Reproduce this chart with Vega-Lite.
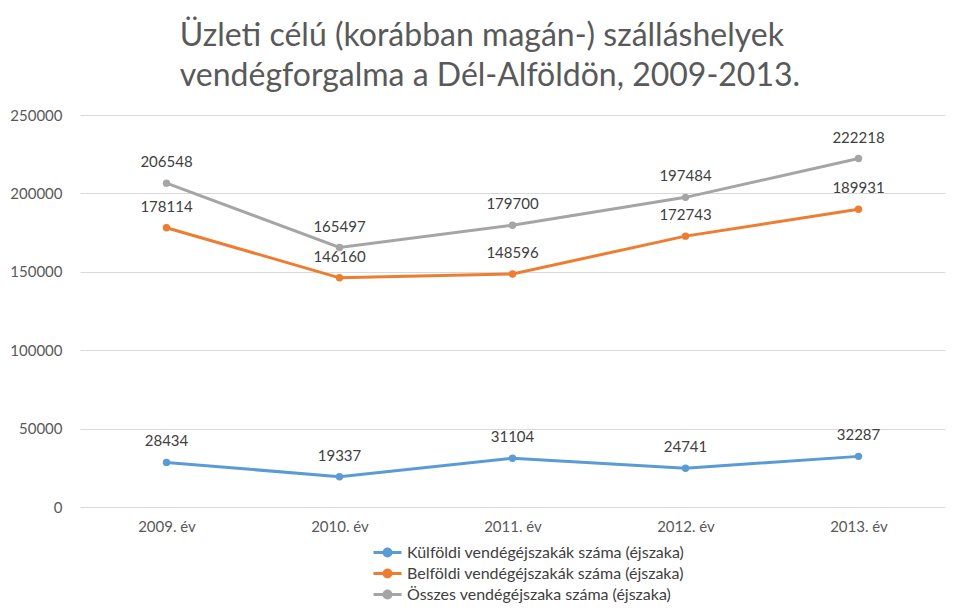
{
  "$schema": "https://vega.github.io/schema/vega-lite/v6.json",
  "width": 865,
  "height": 392,
  "autosize": {"type": "none"},
  "padding": {"left": 80, "top": 115, "right": 15, "bottom": 107},
  "background": "white",
  "config": {"font": "Lato", "view": {"stroke": null}},
  "title": {
    "text": ["Üzleti célú (korábban magán-) szálláshelyek", "vendégforgalma a Dél-Alföldön, 2009-2013."],
    "anchor": "start",
    "dx": 170,
    "fontSize": 32,
    "fontWeight": "normal",
    "color": "#595959",
    "lineHeight": 40,
    "offset": 15
  },
  "data": {
    "values": [
      {"ev": "2009. év", "sorozat": "Külföldi vendégéjszakák száma (éjszaka)", "ertek": 28434},
      {"ev": "2010. év", "sorozat": "Külföldi vendégéjszakák száma (éjszaka)", "ertek": 19337},
      {"ev": "2011. év", "sorozat": "Külföldi vendégéjszakák száma (éjszaka)", "ertek": 31104},
      {"ev": "2012. év", "sorozat": "Külföldi vendégéjszakák száma (éjszaka)", "ertek": 24741},
      {"ev": "2013. év", "sorozat": "Külföldi vendégéjszakák száma (éjszaka)", "ertek": 32287},
      {"ev": "2009. év", "sorozat": "Belföldi vendégéjszakák száma (éjszaka)", "ertek": 178114},
      {"ev": "2010. év", "sorozat": "Belföldi vendégéjszakák száma (éjszaka)", "ertek": 146160},
      {"ev": "2011. év", "sorozat": "Belföldi vendégéjszakák száma (éjszaka)", "ertek": 148596},
      {"ev": "2012. év", "sorozat": "Belföldi vendégéjszakák száma (éjszaka)", "ertek": 172743},
      {"ev": "2013. év", "sorozat": "Belföldi vendégéjszakák száma (éjszaka)", "ertek": 189931},
      {"ev": "2009. év", "sorozat": "Összes vendégéjszaka száma (éjszaka)", "ertek": 206548},
      {"ev": "2010. év", "sorozat": "Összes vendégéjszaka száma (éjszaka)", "ertek": 165497},
      {"ev": "2011. év", "sorozat": "Összes vendégéjszaka száma (éjszaka)", "ertek": 179700},
      {"ev": "2012. év", "sorozat": "Összes vendégéjszaka száma (éjszaka)", "ertek": 197484},
      {"ev": "2013. év", "sorozat": "Összes vendégéjszaka száma (éjszaka)", "ertek": 222218}
    ]
  },
  "encoding": {
    "x": {
      "field": "ev",
      "type": "ordinal",
      "sort": null,
      "scale": {"type": "point", "padding": 0.5},
      "axis": {
        "title": null,
        "labelAngle": 0,
        "labelFontSize": 15,
        "labelColor": "#595959",
        "labelPadding": 12,
        "ticks": false,
        "domain": false,
        "grid": false
      }
    },
    "y": {
      "field": "ertek",
      "type": "quantitative",
      "scale": {"domain": [0, 250000], "nice": false},
      "axis": {
        "title": null,
        "values": [0, 50000, 100000, 150000, 200000, 250000],
        "format": "d",
        "labelFontSize": 15,
        "labelColor": "#595959",
        "labelPadding": 18,
        "ticks": false,
        "domain": false,
        "gridColor": "#D9D9D9",
        "gridWidth": 1
      }
    },
    "color": {
      "field": "sorozat",
      "type": "nominal",
      "sort": null,
      "scale": {
        "domain": ["Külföldi vendégéjszakák száma (éjszaka)", "Belföldi vendégéjszakák száma (éjszaka)", "Összes vendégéjszaka száma (éjszaka)"],
        "range": ["#5B9BD5", "#ED7D31", "#A5A5A5"]
      },
      "legend": {
        "title": null,
        "orient": "none",
        "legendX": 296,
        "legendY": 426,
        "direction": "vertical",
        "padding": 0,
        "labelFontSize": 16,
        "labelColor": "#404040",
        "labelLimit": 0,
        "labelOffset": 8,
        "rowPadding": -2,
        "symbolType": "M-1.4,0H1.4M-0.35,0A0.35,0.35 0 1,0 0.35,0A0.35,0.35 0 1,0 -0.35,0Z",
        "symbolSize": 400,
        "symbolStrokeWidth": 3,
        "encode": {
          "symbols": {
            "update": {
              "fill": {"scale": "color", "field": "value"},
              "stroke": {"scale": "color", "field": "value"},
              "fillOpacity": {"value": 1},
              "strokeWidth": {"value": 3}
            }
          }
        }
      }
    }
  },
  "layer": [
    {"mark": {"type": "line", "strokeWidth": 3}},
    {"mark": {"type": "point", "filled": true, "size": 55, "opacity": 1}},
    {
      "mark": {"type": "text", "dy": -21, "fontSize": 15, "color": "#404040"},
      "encoding": {"text": {"field": "ertek", "type": "quantitative", "format": "d"}, "color": {"value": "#404040"}}
    }
  ]
}
